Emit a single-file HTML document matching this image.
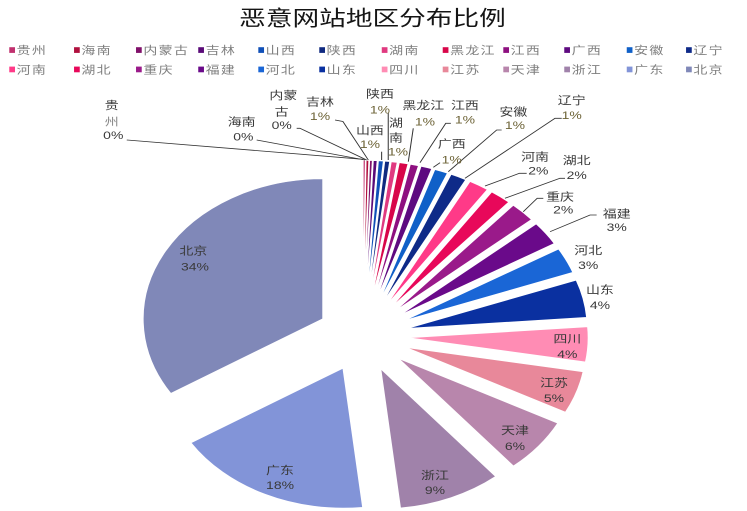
<!DOCTYPE html>
<html><head><meta charset="utf-8">
<style>
html,body{margin:0;padding:0;background:#fff;width:747px;height:511px;overflow:hidden}
svg{display:block}
text{font-family:"Liberation Sans","Noto Sans CJK SC","WenQuanYi Zen Hei",sans-serif}
</style></head>
<body>
<svg width="747" height="511" viewBox="0 0 588.19 511" preserveAspectRatio="none" xmlns="http://www.w3.org/2000/svg">
<rect x="0" y="0" width="588.19" height="511" fill="#fff"/>
<text x="293.3" y="25.6" font-size="21" fill="#151515" text-anchor="middle" font-family="Liberation Sans, Noto Sans CJK SC, sans-serif">恶意网站地区分布比例</text>

<!-- legend -->
<g font-size="11" fill="#7f7f7f" letter-spacing="1">
<rect x="7.3" y="47.2" width="4.5" height="5.7" fill="#c0306e"/><text x="13.1" y="54">贵州</text>
<rect x="58.3" y="47.2" width="4.5" height="5.7" fill="#b0103e"/><text x="64.1" y="54">海南</text>
<rect x="107.1" y="47.2" width="4.5" height="5.7" fill="#80106a"/><text x="112.9" y="54">内蒙古</text>
<rect x="156.1" y="47.2" width="4.5" height="5.7" fill="#5a0a78"/><text x="161.9" y="54">吉林</text>
<rect x="203.4" y="47.2" width="4.5" height="5.7" fill="#1050b8"/><text x="209.2" y="54">山西</text>
<rect x="251.4" y="47.2" width="4.5" height="5.7" fill="#102a80"/><text x="257.2" y="54">陕西</text>
<rect x="300.6" y="47.2" width="4.5" height="5.7" fill="#e03a80"/><text x="306.4" y="54">湖南</text>
<rect x="348.6" y="47.2" width="4.5" height="5.7" fill="#d8064a"/><text x="354.4" y="54">黑龙江</text>
<rect x="396.3" y="47.2" width="4.5" height="5.7" fill="#8e1080"/><text x="402.1" y="54">江西</text>
<rect x="444.3" y="47.2" width="4.5" height="5.7" fill="#5e0a80"/><text x="450.1" y="54">广西</text>
<rect x="493.5" y="47.2" width="4.5" height="5.7" fill="#1060c8"/><text x="499.3" y="54">安徽</text>
<rect x="540.2" y="47.2" width="4.5" height="5.7" fill="#0e2a88"/><text x="546" y="54">辽宁</text>

<rect x="7.3" y="66.6" width="4.5" height="5.7" fill="#ff3a88"/><text x="13.1" y="73.4">河南</text>
<rect x="58.3" y="66.6" width="4.5" height="5.7" fill="#e8085a"/><text x="64.1" y="73.4">湖北</text>
<rect x="107.1" y="66.6" width="4.5" height="5.7" fill="#9a1a8a"/><text x="112.9" y="73.4">重庆</text>
<rect x="156.1" y="66.6" width="4.5" height="5.7" fill="#6a0a8a"/><text x="161.9" y="73.4">福建</text>
<rect x="203.4" y="66.6" width="4.5" height="5.7" fill="#1a66d6"/><text x="209.2" y="73.4">河北</text>
<rect x="251.4" y="66.6" width="4.5" height="5.7" fill="#0a30a0"/><text x="257.2" y="73.4">山东</text>
<rect x="300.6" y="66.6" width="4.5" height="5.7" fill="#ff8cb4"/><text x="306.4" y="73.4">四川</text>
<rect x="348.6" y="66.6" width="4.5" height="5.7" fill="#e8889a"/><text x="354.4" y="73.4">江苏</text>
<rect x="396.3" y="66.6" width="4.5" height="5.7" fill="#b886ac"/><text x="402.1" y="73.4">天津</text>
<rect x="444.3" y="66.6" width="4.5" height="5.7" fill="#a082aa"/><text x="450.1" y="73.4">浙江</text>
<rect x="493.5" y="66.6" width="4.5" height="5.7" fill="#8294d8"/><text x="499.3" y="73.4">广东</text>
<rect x="540.2" y="66.6" width="4.5" height="5.7" fill="#8088b8"/><text x="546" y="73.4">北京</text>
</g>

<!-- pie -->
<g transform="matrix(1,0,0,0.99,0,2.865)" stroke="#fff" stroke-width="0.8" stroke-linejoin="round">
<path fill="#c0306e" d="M285.93,300.5 L285.93,159 A141.5,141.5 0 0 1 287.71,159.01 Z"/>
<path fill="#b0103e" d="M286.44,300.51 L288.22,159.02 A141.5,141.5 0 0 1 290.44,159.07 Z"/>
<path fill="#80106a" d="M287,300.52 L291,159.08 A141.5,141.5 0 0 1 293.22,159.16 Z"/>
<path fill="#5a0a78" d="M287.68,300.55 L293.9,159.19 A141.5,141.5 0 0 1 297.01,159.36 Z"/>
<path fill="#1050b8" d="M288.58,300.62 L297.91,159.43 A141.5,141.5 0 0 1 301.9,159.75 Z"/>
<path fill="#102a80" d="M289.59,300.71 L302.91,159.84 A141.5,141.5 0 0 1 306.88,160.27 Z"/>
<path fill="#e03a80" d="M290.72,300.85 L308.01,160.41 A141.5,141.5 0 0 1 312.86,161.09 Z"/>
<path fill="#d8064a" d="M292.22,301.1 L314.36,161.34 A141.5,141.5 0 0 1 321.35,162.63 Z"/>
<path fill="#8e1080" d="M293.94,301.46 L323.07,162.99 A141.5,141.5 0 0 1 329.56,164.52 Z"/>
<path fill="#5e0a80" d="M295.85,301.96 L331.47,165.02 A141.5,141.5 0 0 1 339.99,167.52 Z"/>
<path fill="#1060c8" d="M298.21,302.74 L342.35,168.3 A141.5,141.5 0 0 1 352.36,172.01 Z"/>
<path fill="#0e2a88" d="M300.98,303.9 L355.13,173.17 A141.5,141.5 0 0 1 366.79,178.64 Z"/>
<path fill="#ff3a88" d="M304.22,305.63 L370.03,180.37 A141.5,141.5 0 0 1 383.75,188.6 Z"/>
<path fill="#e8085a" d="M307.67,307.98 L387.2,190.95 A141.5,141.5 0 0 1 400.58,201.25 Z"/>
<path fill="#9a1a8a" d="M311.24,311.12 L404.15,204.39 A141.5,141.5 0 0 1 418.52,218.85 Z"/>
<path fill="#6a0a8a" d="M314.93,315.48 L422.21,223.21 A141.5,141.5 0 0 1 436.49,243.06 Z"/>
<path fill="#1a66d6" d="M318.2,321.02 L439.76,248.6 A141.5,141.5 0 0 1 451.04,272.25 Z"/>
<path fill="#0a30a0" d="M320.87,328.81 L453.71,280.04 A141.5,141.5 0 0 1 461.93,317.71 Z"/>
<path fill="#ff8cb4" d="M321.66,338.23 L462.72,327.13 A141.5,141.5 0 0 1 461.01,362.8 Z"/>
<path fill="#e8889a" d="M319.78,348.08 L459.13,372.65 A141.5,141.5 0 0 1 445.25,413.5 Z"/>
<path fill="#b886ac" d="M313.73,359.09 L439.2,424.51 A141.5,141.5 0 0 1 404.26,467.84 Z"/>
<path fill="#a082aa" d="M299.79,369.63 L390.32,478.38 A141.5,141.5 0 0 1 315.32,510.28 Z"/>
<path fill="#8294d8" d="M270.06,368.93 L285.59,509.58 A141.5,141.5 0 0 1 150.36,444.38 Z"/>
<path fill="#8088b8" d="M254.18,319.11 L134.48,394.56 A141.5,141.5 0 0 1 254.18,177.61 Z"/>
</g>

<!-- leader lines -->
<g stroke="#333" stroke-width="0.8" fill="none">
<path d="M99.8,140 L286.1,159.3"/>
<path d="M202.1,140 L287.4,160"/>
<path d="M233.6,128.3 L236.2,128.3 L288.7,160"/>
<path d="M263.8,120 L270,121.5 L290,160"/>
<path d="M300.5,151.7 L300.5,160"/>
<path d="M305.7,113 L305.7,160"/>
<path d="M325.4,128.3 L321.5,161.7"/>
<path d="M355,123.3 L351,123.3 L330.7,162.7"/>
<path d="M346.5,162.7 L341.2,167.3"/>
<path d="M395,130 L391.1,130 L353,171.7"/>
<path d="M442.3,118.3 L437,118.3 L366.1,178.3"/>
<path d="M414.7,173.3 L409,173.3 L381.9,186"/>
<path d="M444.9,178.3 L440.9,178.3 L397.6,198.3"/>
<path d="M427.8,198.3 L423,198.3 L412,211.7"/>
<path d="M469.8,215 L464.6,215 L433.1,231.7"/>
</g>

<!-- data labels -->
<g font-size="11" fill="#3a3a3a" text-anchor="middle">
<text x="152.2" y="254.7">北京</text><text x="153.5" y="270.7">34%</text>
<text x="220.5" y="474">广东</text><text x="220.5" y="489">18%</text>
<text x="342.5" y="479">浙江</text><text x="342.5" y="494">9%</text>
<text x="405.5" y="434">天津</text><text x="405.5" y="450">6%</text>
<text x="436.2" y="386.7">江苏</text><text x="436.2" y="402">5%</text>
<text x="446.7" y="342.3">四川</text><text x="446.7" y="358">4%</text>
<text x="472.4" y="293.3">山东</text><text x="472.4" y="309">4%</text>
<text x="463.2" y="254">河北</text><text x="463.2" y="269">3%</text>
<text x="485.6" y="217.3">福建</text><text x="485.6" y="231">3%</text>
<text x="441" y="200.7">重庆</text><text x="443.5" y="213.3">2%</text>
<text x="454.1" y="164">湖北</text><text x="454.1" y="179">2%</text>
<text x="421.3" y="160.7">河南</text><text x="423.9" y="174.7">2%</text>
<text x="450.2" y="104">辽宁</text>
<text x="404.2" y="115.7">安徽</text>
<text x="355.7" y="147.3">广西</text>
<text x="366.1" y="109">江西</text>
<text x="333.3" y="109">黑龙江</text>
<text x="311.8" y="126.5">湖</text><text x="311.8" y="141.5">南</text>
<text x="299.2" y="97.3">陕西</text>
<text x="291.3" y="134">山西</text>
<text x="252" y="105.7">吉林</text>
<text x="223.1" y="99">内蒙</text><text x="221.8" y="115.7">古</text><text x="221.8" y="129">0%</text>
<text x="190.3" y="125.7">海南</text><text x="191.6" y="140.7">0%</text>
<text x="88" y="109">贵</text><text x="88" y="125.7" fill="#8a8a8a">州</text><text x="89.2" y="139">0%</text>
</g>
<g font-size="11" fill="#6e6438" text-anchor="middle">
<text x="450.2" y="119">1%</text>
<text x="405.5" y="129">1%</text>
<text x="355.7" y="163.3">1%</text>
<text x="366.1" y="123.3">1%</text>
<text x="334.6" y="125.7">1%</text>
<text x="313.4" y="155.7">1%</text>
<text x="299.2" y="113.3">1%</text>
<text x="291.3" y="148">1%</text>
<text x="252" y="120">1%</text>
</g>
</svg>
</body></html>
